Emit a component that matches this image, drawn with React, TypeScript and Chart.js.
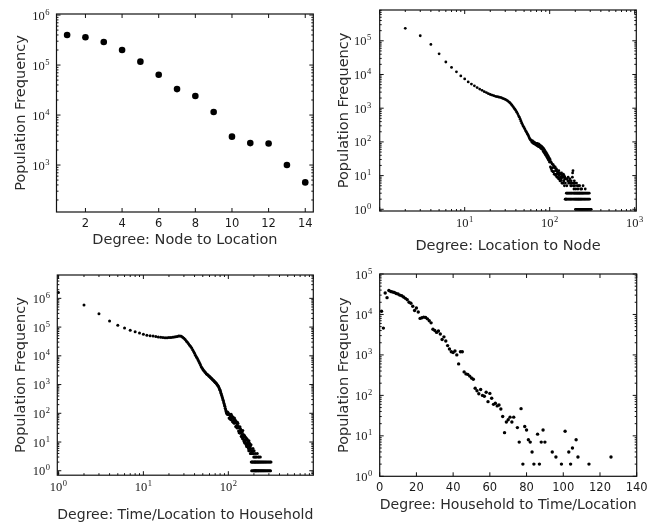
import React, { useEffect, useRef } from 'react';
import { Chart, registerables } from 'chart.js';

Chart.register(...registerables);

// ---------- Panel 1: Node to Location ----------
const nodeLocDeg = [1, 2, 3, 4, 5, 6, 7, 8, 9, 10, 11, 12, 13, 14];
const nodeLocFreq = [400000, 360000, 290000, 200000, 117000, 64000, 33000, 24000, 11500, 3700, 2750, 2700, 1000, 450];
const nodeLocXTicks = [2, 4, 6, 8, 10, 12, 14];
const nodeLocYTicks = [1e3, 1e4, 1e5, 1e6];

// ---------- Panel 2: Location to Node ----------
const locNodeFirstDeg = 2;
const locNodeFreq = [
  234000, 141000, 78000, 41000, 23500, 16200, 12000, 9100, 7400,
  6000, 5200, 4600, 4100, 3700, 3400, 3100, 2900, 2700, 2550,
  2450, 2350, 2250, 2200, 2150, 2100, 2050, 1950, 1900, 1820,
  1740, 1660, 1550, 1450, 1350, 1230, 1120, 1020, 930, 850,
  760, 680, 600, 540, 470, 410, 360, 320, 290, 265,
  240, 215, 200, 185, 170, 155, 140, 128, 120, 112,
  110, 98, 107, 91, 100, 87, 95, 83, 91, 79,
  91, 76, 87, 72, 85, 71, 79, 66, 76, 63,
  72, 59, 68, 52, 63, 48, 58, 44, 52, 40,
  48, 36, 44, 33, 40, 30, 36, 28, 33, 25,
  30, 18, 26, 16, 24, 14, 22, 17, 13, 21,
  13, 19, 11, 17, 11, 18, 14, 10, 16, 11,
  15, 9, 13, 9, 12, 11, 8, 14, 10, 8,
  12, 7, 11, 9, 7, 11, 8, 12, 6, 9,
  10, 6, 9, 6, 11, 7, 7, 10, 5, 8,
];
const locNodeTailDeg = [151, 153, 155, 159, 161, 163, 165, 167, 169, 171, 173, 175, 177, 179, 181, 183, 185, 186, 188, 189, 191, 193, 195, 197, 199, 203, 207, 211, 215, 219, 225, 231, 238, 247, 262];
const locNodeTailFreq = [9, 6, 8, 5, 8, 7, 9, 6, 7, 6, 8, 6, 5, 7, 5, 6, 9, 12, 14, 6, 5, 4, 7, 5, 6, 4, 6, 5, 4, 5, 5, 4, 4, 5, 4];
const locNodeThreesDeg = [157, 160, 164, 168, 172, 176, 180, 184, 190, 194, 198, 202, 206, 210, 214, 218, 222, 226, 230, 235, 240, 245, 250, 256, 263, 270, 277, 284, 292];
const locNodeTwosDeg = [152, 154, 156, 158, 162, 166, 170, 174, 178, 182, 187, 192, 196, 200, 204, 208, 212, 216, 220, 224, 228, 233, 237, 242, 248, 254, 260, 266, 273, 280, 287, 295];
const locNodeOnesDeg = [201, 205, 209, 213, 217, 221, 223, 227, 229, 232, 234, 236, 239, 241, 243, 246, 249, 252, 255, 258, 261, 265, 268, 272, 276, 279, 283, 288, 293, 298, 303, 308];
const locNodeXTicks = [1, 10, 100, 1000];
const locNodeXLabels = [10, 100, 1000];
const locNodeYTicks = [1, 10, 100, 1e3, 1e4, 1e5];

// ---------- Panel 3: Time/Location to Household ----------
const tlHhFirstDeg = 1;
const tlHhFreq = [
  1600000, 590000, 290000, 163000, 115000, 93000, 78000, 69000, 62000, 56000,
  52500, 50000, 49000, 47000, 45000, 44000, 43000, 42700, 42500, 43000,
  43600, 44500, 45500, 46500, 47500, 48500, 49000, 48000, 44500, 40500,
  37000, 33000, 29500, 26300, 23500, 21000, 18600, 16200, 14100, 12300,
  10500, 9300, 8300, 7200, 6300, 5500, 4800, 4200, 3800, 3470,
  3160, 2950, 2750, 2570, 2400, 2290, 2190, 2090, 2000, 1900,
  1820, 1740, 1660, 1580, 1510, 1450, 1380, 1320, 1260, 1200,
  1150, 1100, 1050, 980, 930, 890, 830, 760, 690, 630,
  560, 500, 445, 400, 355, 316, 282, 245, 219, 195,
  174, 151, 132, 115, 105, 96, 112, 90, 106, 94,
  90, 68, 94, 64, 84, 74, 60, 92, 66, 80,
  70, 52, 74, 49, 64, 56, 45, 68, 47, 59,
  50, 35, 53, 33, 46, 38, 31, 49, 35, 44,
  35, 24, 33, 21, 31, 23, 34, 20, 29, 22,
  26, 16, 24, 15, 22, 18, 13, 25, 14, 18,
  18, 11, 16, 10, 17, 12, 9, 15, 11, 12,
  14, 8, 12, 7, 13, 9, 7, 12, 8, 10,
  10, 6, 9, 5, 11, 7, 5, 9, 6, 8,
  7, 4, 6, 4, 8,
];
const tlHhTailDeg = [187, 189, 191, 193, 195, 197, 199, 201, 204, 207, 210, 214, 219, 224, 230, 238];
const tlHhTailFreq = [5, 4, 5, 4, 6, 4, 3, 5, 3, 4, 3, 3, 4, 3, 3, 3];
const tlHhTwosDeg = [186, 190, 192, 196, 200, 203, 206, 209, 212, 216, 220, 223, 227, 231, 235, 240, 244, 249, 254, 259, 264, 270, 276, 282, 289, 296, 303, 311, 318];
const tlHhOnesDeg = [188, 194, 198, 202, 205, 208, 211, 213, 217, 221, 225, 228, 233, 237, 242, 246, 251, 256, 261, 266, 272, 278, 285, 292, 299, 306, 314];
const tlHhXTicks = [1, 10, 100, 1000];
const tlHhXLabels = [1, 10, 100];
const tlHhYTicks = [1, 10, 100, 1e3, 1e4, 1e5, 1e6];

// ---------- Panel 4: Household to Time/Location ----------
const hhTlDeg = [
  1, 2, 3, 4, 5, 6, 7, 8, 9, 10,
  11, 12, 13, 14, 15, 16, 17, 18, 19, 20,
  21, 22, 23, 24, 25, 26, 27, 28, 29, 30,
  31, 32, 33, 34, 35, 36, 37, 38, 39, 40,
  41, 42, 43, 44, 45, 46, 47, 48, 49, 50,
  51, 52, 53, 54, 55, 56, 57, 58, 59, 60,
  61, 62, 63, 64, 65, 66, 67, 68, 69, 70,
  71, 72, 73,
  75, 76, 77, 78, 79, 80, 81, 82, 83, 84,
  86, 87, 88, 89, 90,
  94, 96, 99, 101, 103, 104, 105, 107, 108, 114, 126,
];
const hhTlFreq = [
  12000, 4600, 34000, 26000, 39000, 37000, 36000, 35000, 33000, 32000,
  30000, 29000, 27000, 25000, 23000, 20000, 19000, 16000, 12500, 14500,
  11500, 8000, 8300, 8600, 8400, 7800, 7000, 6200, 4300, 4000,
  3600, 3900, 3300, 2400, 2800, 2200, 1700, 1400, 1200, 1150,
  1250, 1000, 600, 1200, 1200, 380, 340, 330, 300, 270,
  250, 150, 130, 110, 140, 100, 95, 120, 70, 112,
  85, 60, 64, 55, 58, 46, 30, 12, 22, 25,
  29, 22, 29,
  16, 7, 47, 2, 17, 14, 8, 7, 4, 2,
  11, 2, 7, 14, 7,
  4, 3, 2, 13, 4, 2, 5, 8, 3, 2, 3,
];
const hhTlXTicks = [0, 20, 40, 60, 80, 100, 120, 140];
const hhTlYTicks = [1, 10, 100, 1e3, 1e4, 1e5];

// ---------- helpers ----------
type Pt = { x: number; y: number };
const pairs = (xs: number[], ys: number[]): Pt[] => xs.map((x, i) => ({ x, y: ys[i] }));
const consecutive = (start: number, ys: number[]): Pt[] => ys.map((y, i) => ({ x: start + i, y }));
const atLevel = (xs: number[], v: number): Pt[] => xs.map((x) => ({ x, y: v }));

function logMinors(min: number, max: number): number[] {
  const out: number[] = [];
  for (let e = Math.floor(Math.log10(min)) - 1; e <= Math.ceil(Math.log10(max)); e++) {
    for (let m = 2; m <= 9; m++) {
      const v = m * Math.pow(10, e);
      if (v > min && v < max) out.push(v);
    }
  }
  return out;
}

const SERIF = '"Liberation Serif", "DejaVu Serif", serif';
const NUM_FONT = '11.5px "DejaVu Sans"';

function drawPow(ctx: CanvasRenderingContext2D, v: number, x: number, baseline: number, align: 'center' | 'right') {
  const exp = String(Math.round(Math.log10(v)));
  const base = '12.5px ' + SERIF;
  const sup = '8.5px ' + SERIF;
  ctx.font = base;
  const w1 = ctx.measureText('10').width;
  ctx.font = sup;
  const w2 = ctx.measureText(exp).width;
  const total = w1 + w2 + 0.5;
  const start = align === 'center' ? x - total / 2 : x - total;
  ctx.textAlign = 'left';
  ctx.textBaseline = 'alphabetic';
  ctx.font = base;
  ctx.fillText('10', start, baseline);
  ctx.font = sup;
  ctx.fillText(exp, start + w1 + 0.5, baseline - 5);
}

const axisDecor = {
  id: 'axisDecor',
  afterDatasetsDraw(chart: any, _args: any, o: any) {
    const ctx: CanvasRenderingContext2D = chart.ctx;
    const { left, right, top, bottom } = chart.chartArea;
    const xs = chart.scales.x;
    const ys = chart.scales.y;
    ctx.save();
    ctx.strokeStyle = '#111';
    ctx.lineWidth = 1;
    const seg = (x1: number, y1: number, x2: number, y2: number) => {
      ctx.beginPath();
      ctx.moveTo(x1, y1);
      ctx.lineTo(x2, y2);
      ctx.stroke();
    };
    const xt = (vals: number[], len: number) =>
      vals.forEach((v) => {
        const p = xs.getPixelForValue(v);
        if (p < left - 0.5 || p > right + 0.5) return;
        seg(p, bottom, p, bottom - len);
        seg(p, top, p, top + len);
      });
    const yt = (vals: number[], len: number) =>
      vals.forEach((v) => {
        const p = ys.getPixelForValue(v);
        if (p < top - 0.5 || p > bottom + 0.5) return;
        seg(left, p, left + len, p);
        seg(right, p, right - len, p);
      });
    xt(o.xMajor, 4);
    xt(o.xMinor, 2);
    yt(o.yMajor, 4);
    yt(o.yMinor, 2);
    ctx.lineWidth = 1.2;
    ctx.strokeRect(left, top, right - left, bottom - top);

    ctx.fillStyle = '#1a1a1a';
    o.xLabels.forEach((v: number) => {
      const p = xs.getPixelForValue(v);
      if (o.xPow) {
        drawPow(ctx, v, p, bottom + o.xBase, 'center');
      } else {
        ctx.font = NUM_FONT;
        ctx.textAlign = 'center';
        ctx.textBaseline = 'alphabetic';
        ctx.fillText(String(v), p, bottom + o.xBase);
      }
    });
    o.yLabels.forEach((v: number) => {
      const p = ys.getPixelForValue(v);
      drawPow(ctx, v, left - o.yGap, p + 4.5, 'right');
    });
    ctx.restore();
  },
};

type Spec = {
  box: { left: number; top: number; w: number; h: number };
  pad: { left: number; right: number; top: number; bottom: number };
  yW: number;
  xH: number;
  xType: 'linear' | 'logarithmic';
  xMin: number;
  xMax: number;
  yMin: number;
  yMax: number;
  xMajor: number[];
  xLabels: number[];
  xPow: boolean;
  xBase: number;
  yMajor: number[];
  yGap: number;
  xTitle: string;
  radius: number;
  series: Pt[][];
};

const titleFont = { family: 'DejaVu Sans', size: 14.5, lineHeight: 1 };

const specs: Spec[] = [
  {
    box: { left: 0, top: 0, w: 333, h: 262 },
    pad: { left: 14.25, right: 19.7, top: 14, bottom: 14.75 },
    yW: 42.25,
    xH: 35.25,
    xType: 'linear',
    xMin: 0.42,
    xMax: 14.44,
    yMin: 115,
    yMax: 1.05e6,
    xMajor: nodeLocXTicks,
    xLabels: nodeLocXTicks,
    xPow: false,
    xBase: 14.8,
    yMajor: nodeLocYTicks,
    yGap: 7,
    xTitle: 'Degree: Node to Location',
    radius: 3.3,
    series: [pairs(nodeLocDeg, nodeLocFreq)],
  },
  {
    box: { left: 333, top: 0, w: 333, h: 262 },
    pad: { left: 4.45, right: 29.7, top: 10, bottom: 8.75 },
    yW: 42.25,
    xH: 42.25,
    xType: 'logarithmic',
    xMin: 1,
    xMax: 1045,
    yMin: 0.89,
    yMax: 8.2e5,
    xMajor: locNodeXTicks,
    xLabels: locNodeXLabels,
    xPow: true,
    xBase: 16,
    yMajor: locNodeYTicks,
    yGap: 8.5,
    xTitle: 'Degree: Location to Node',
    radius: 1.4,
    series: [
      consecutive(locNodeFirstDeg, locNodeFreq),
      pairs(locNodeTailDeg, locNodeTailFreq),
      atLevel(locNodeThreesDeg, 3),
      atLevel(locNodeTwosDeg, 2),
      atLevel(locNodeOnesDeg, 1),
    ],
  },
  {
    box: { left: 0, top: 262, w: 333, h: 261 },
    pad: { left: 14.25, right: 19.7, top: 13, bottom: 0.25 },
    yW: 43.05,
    xH: 47.55,
    xType: 'logarithmic',
    xMin: 0.97,
    xMax: 1000,
    yMin: 0.73,
    yMax: 6.5e6,
    xMajor: tlHhXTicks,
    xLabels: tlHhXLabels,
    xPow: true,
    xBase: 15.5,
    yMajor: tlHhYTicks,
    yGap: 7.3,
    xTitle: 'Degree: Time/Location to Household',
    radius: 1.5,
    series: [
      consecutive(tlHhFirstDeg, tlHhFreq),
      pairs(tlHhTailDeg, tlHhTailFreq),
      atLevel(tlHhTwosDeg, 2),
      atLevel(tlHhOnesDeg, 1),
    ],
  },
  {
    box: { left: 333, top: 262, w: 333, h: 261 },
    pad: { left: 4.45, right: 29.3, top: 12, bottom: 10.75 },
    yW: 42.25,
    xH: 35.95,
    xType: 'linear',
    xMin: 0,
    xMax: 140,
    yMin: 1,
    yMax: 1e5,
    xMajor: hhTlXTicks,
    xLabels: hhTlXTicks,
    xPow: false,
    xBase: 15,
    yMajor: hhTlYTicks,
    yGap: 7.4,
    xTitle: 'Degree: Household to Time/Location',
    radius: 1.7,
    series: [pairs(hhTlDeg, hhTlFreq)],
  },
];

function Panel({ spec }: { spec: Spec }) {
  const ref = useRef<HTMLCanvasElement | null>(null);
  useEffect(() => {
    if (!ref.current) return;
    const s = spec;
    const chart = new Chart(ref.current, {
      type: 'scatter',
      data: {
        datasets: s.series.map((pts) => ({
          data: pts,
          pointRadius: s.radius,
          pointHoverRadius: s.radius,
          pointBackgroundColor: '#000',
          pointBorderWidth: 0,
          borderColor: '#000',
          showLine: false,
          clip: false as any,
        })),
      },
      options: {
        animation: false,
        responsive: false,
        devicePixelRatio: 1,
        events: [],
        layout: { padding: s.pad },
        plugins: {
          legend: { display: false },
          tooltip: { enabled: false },
          axisDecor: {
            xMajor: s.xMajor,
            xMinor: s.xType === 'logarithmic' ? logMinors(s.xMin, s.xMax) : [],
            yMajor: s.yMajor,
            yMinor: logMinors(s.yMin, s.yMax),
            xLabels: s.xLabels,
            yLabels: s.yMajor,
            xPow: s.xPow,
            xBase: s.xBase,
            yGap: s.yGap,
          },
        } as any,
        scales: {
          x: {
            type: s.xType,
            min: s.xMin,
            max: s.xMax,
            grid: { display: false },
            border: { display: false },
            ticks: { display: false },
            title: { display: true, text: s.xTitle, color: '#2b2b2b', font: titleFont, padding: { top: 0, bottom: 0 } },
            afterFit: (sc: any) => {
              sc.height = s.xH;
            },
          } as any,
          y: {
            type: 'logarithmic',
            min: s.yMin,
            max: s.yMax,
            grid: { display: false },
            border: { display: false },
            ticks: { display: false },
            title: { display: true, text: 'Population Frequency', color: '#2b2b2b', font: titleFont, padding: { top: 0, bottom: 0 } },
            afterFit: (sc: any) => {
              sc.width = s.yW;
            },
          } as any,
        },
      },
      plugins: [axisDecor as any],
    });
    return () => chart.destroy();
  }, [spec]);
  return (
    <canvas
      ref={ref}
      width={spec.box.w}
      height={spec.box.h}
      style={{ position: 'absolute', left: spec.box.left, top: spec.box.top, width: spec.box.w, height: spec.box.h }}
    />
  );
}

export default function App() {
  return (
    <div style={{ position: 'absolute', left: 0, top: 0, width: 666, height: 523, background: '#fff', overflow: 'hidden' }}>
      {specs.map((s, i) => (
        <Panel key={i} spec={s} />
      ))}
    </div>
  );
}
